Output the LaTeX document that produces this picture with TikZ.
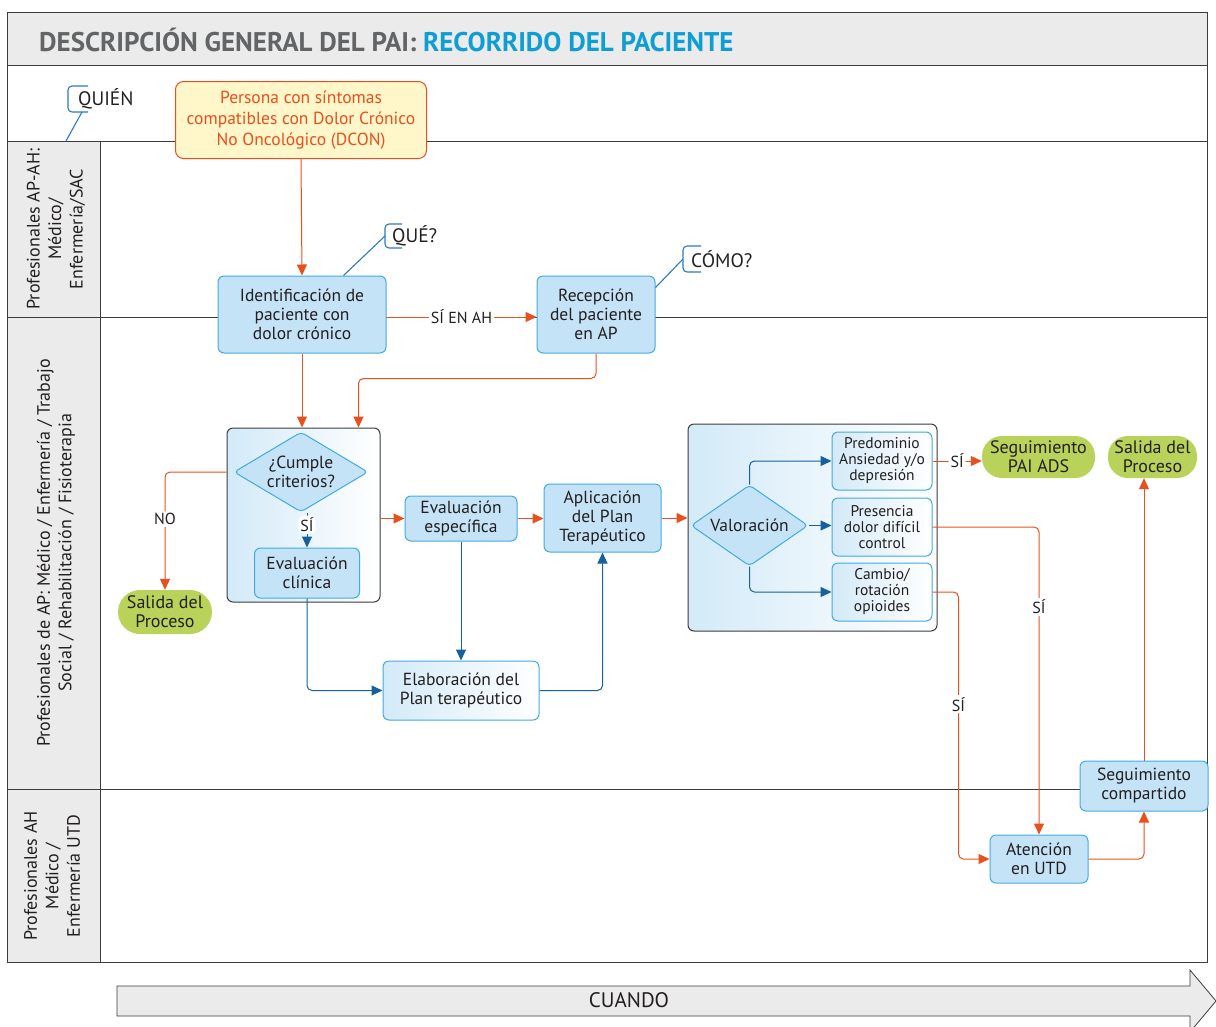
\documentclass[tikz,border=0pt]{standalone}
\usepackage{fontspec}
\setmainfont{PT Sans}
\usetikzlibrary{arrows.meta,shapes.geometric,positioning}
\definecolor{naranja}{HTML}{E8501E}
\definecolor{azulosc}{HTML}{17609F}
\definecolor{azulborde}{HTML}{44AAE0}
\definecolor{azulrelleno}{HTML}{C5E3F6}
\definecolor{azulclaro}{HTML}{D3EAF8}
\definecolor{azulllamada}{HTML}{2B7AC5}
\definecolor{verde}{HTML}{B8D25A}
\definecolor{amarillo}{HTML}{FFF6C9}
\definecolor{grisfondo}{HTML}{EBEBEB}
\definecolor{gristexto}{HTML}{636466}
\definecolor{grislinea}{HTML}{3C3C3C}
\definecolor{cian}{HTML}{0E9ED3}
\definecolor{textonodo}{HTML}{231F20}
\tikzset{
    pasonode/.style = {
        align=center,
        inner sep=0pt,
        text centered,
        text=textonodo,
        font=\fontsize{17.5}{19}\selectfont,
        rectangle,
        rounded corners=6pt,
        draw=azulborde,
        line width=1pt,
        fill=azulrelleno
    },
    suavenode/.style = {
        pasonode,
        left color=azulclaro,
        right color=white
    },
    pequenonode/.style = {
        suavenode,
        font=\fontsize{15.5}{16}\selectfont,
        minimum width=100pt,
        minimum height=58pt
    },
    decisionnode/.style = {
        pasonode,
        diamond,
        rounded corners=4pt,
        aspect=1.7
    },
    grupobox/.style = {
        rectangle,
        rounded corners=6pt,
        draw=grislinea,
        line width=1pt,
        left color=azulclaro,
        right color=white
    },
    salidanode/.style = {
        align=center,
        inner sep=0pt,
        text=textonodo,
        font=\fontsize{18}{19}\selectfont,
        rectangle,
        rounded corners=20pt,
        fill=verde
    },
    carrilnode/.style = {
        align=center,
        rotate=90,
        text=textonodo,
        font=\fontsize{18}{21.5}\selectfont
    },
    llamadanode/.style = {
        anchor=west,
        inner sep=0pt,
        text=textonodo,
        font=\fontsize{19.5}{21}\selectfont
    },
    llamada/.style = {
        draw=azulllamada,
        line width=1.1pt,
        rounded corners=4pt
    },
    flechanar/.style = {
        draw=naranja,
        line width=1pt,
        rounded corners=5pt,
        -{Triangle[length=11pt,width=10pt]}
    },
    flechaazul/.style = {
        draw=azulosc,
        line width=1pt,
        rounded corners=5pt,
        -{Triangle[length=11pt,width=10pt]}
    },
    etiqueta/.style = {
        fill=white,
        inner sep=2pt,
        text=textonodo,
        font=\fontsize{16}{17}\selectfont
    }
}

\begin{document}
\begin{tikzpicture}[x=1pt,y=-1pt]
    \useasboundingbox (0,0) rectangle (1216,1026);
    \clip (0,0) rectangle (1216,1026);
    % marco y carriles
    \fill[grisfondo] (7,12) rectangle (1207,65);
    \fill[grisfondo] (7,141) rectangle (100,962);
    \draw[grislinea, line width=1pt] (7,12) rectangle (1207,962);
    \draw[grislinea, line width=1pt] (7,65) -- (1207,65);
    \draw[grislinea, line width=0.8pt] (7,141) -- (1207,141);
    \draw[grislinea, line width=0.8pt] (7,317) -- (1207,317);
    \draw[grislinea, line width=0.8pt] (7,789) -- (1207,789);
    \draw[grislinea, line width=0.8pt] (100,141) -- (100,962);
    \node[anchor=west, inner sep=0pt, font=\fontsize{27}{28}\selectfont\bfseries] (titulo) at (39,40)
        {\color{gristexto}DESCRIPCIÓN GENERAL DEL PAI: \color{cian}RECORRIDO DEL PACIENTE};
    \node[carrilnode] (carril1) at (56,229) {Profesionales AP-AH:\\Médico/\\Enfermería/SAC};
    \node[carrilnode] (carril2) at (56,553) {Profesionales de AP: Médico / Enfermería / Trabajo\\Social / Rehabilitación / Fisioterapia};
    \node[carrilnode] (carril3) at (52,876) {Profesionales AH\\Médico /\\Enfermería UTD};

    % llamadas
    \node[llamadanode] (quien) at (78,99) {QUIÉN};
    \draw[llamada] ([xshift=10pt,yshift=13pt]quien.west) -- ([xshift=-10pt,yshift=13pt]quien.west) -- ([xshift=-10pt,yshift=-13pt]quien.west) -- ([xshift=10pt,yshift=-13pt]quien.west);
    \coordinate (quienpt) at (66,141);
    \draw[azulllamada, line width=1.1pt] ([xshift=4pt,yshift=-13pt]quien.west) -- (quienpt);
    \node[llamadanode] (que) at (392,236) {QUÉ?};
    \draw[llamada] ([xshift=10pt,yshift=12pt]que.west) -- ([xshift=-7pt,yshift=12pt]que.west) -- ([xshift=-7pt,yshift=-12pt]que.west) -- ([xshift=10pt,yshift=-12pt]que.west);
    \node[llamadanode] (como) at (691,259) {CÓMO?};
    \draw[llamada] ([xshift=10pt,yshift=13pt]como.west) -- ([xshift=-8pt,yshift=13pt]como.west) -- ([xshift=-8pt,yshift=-13pt]como.west) -- ([xshift=10pt,yshift=-13pt]como.west);

    % contenedores
    \node[grupobox, minimum width=153pt, minimum height=174pt] (grupo1) at (303.5,515) {};
    \node[grupobox, minimum width=249pt, minimum height=207pt] (grupo2) at (812.5,527.5) {};

    % nodos
    \node[pasonode, fill=amarillo, draw=naranja, text=naranja, rounded corners=8pt,
        minimum width=251pt, minimum height=77pt, font=\fontsize{17.5}{21}\selectfont] (persona) at (301,120)
        {Persona con síntomas\\compatibles con Dolor Crónico\\No Oncológico (DCON)};
    \node[pasonode, minimum width=168pt, minimum height=77pt] (ident) at (302,314.5)
        {Identificación de\\paciente con\\dolor crónico};
    \node[pasonode, minimum width=118pt, minimum height=77pt] (recep) at (596,314.5)
        {Recepción\\del paciente\\en AP};
    \node[decisionnode, inner sep=-5pt, minimum width=134pt, minimum height=80pt] (cumple) at (301,472)
        {¿Cumple\\criterios?};
    \node[pasonode, minimum width=105pt, minimum height=50pt] (evclin) at (307,573)
        {Evaluación\\clínica};
    \node[salidanode, minimum width=94pt, minimum height=44pt, rounded corners=22pt] (salida1) at (165,612)
        {Salida del\\Proceso};
    \node[pasonode, minimum width=112pt, minimum height=45pt] (evesp) at (461,518.5)
        {Evaluación\\específica};
    \node[pasonode, minimum width=117pt, minimum height=68pt] (aplic) at (602.5,518)
        {Aplicación\\del Plan\\Terapéutico};
    \node[suavenode, minimum width=156pt, minimum height=59pt] (elab) at (461,690.5)
        {Elaboración del\\Plan terapéutico};
    \node[decisionnode, inner sep=-3pt, aspect=1.45, minimum width=117pt, minimum height=81pt] (valor) at (749.5,525.5)
        {Valoración};
    \node[pequenonode] (predom) at (882,461) {Predominio\\Ansiedad y/o\\depresión};
    \node[pequenonode] (presen) at (882,527) {Presencia\\dolor difícil\\control};
    \node[pequenonode] (cambio) at (882,592) {Cambio/\\rotación\\opioides};
    \node[salidanode, minimum width=113pt, minimum height=42pt] (segads) at (1038.5,457)
        {Seguimiento\\PAI ADS};
    \node[salidanode, minimum width=89pt, minimum height=42pt] (salida2) at (1152.5,457)
        {Salida del\\Proceso};
    \node[pasonode, minimum width=98pt, minimum height=48pt] (atenc) at (1039,859)
        {Atención\\en UTD};
    \node[pasonode, minimum width=128pt, minimum height=50pt] (segcomp) at (1144,786)
        {Seguimiento\\compartido};

    % punteros de las llamadas
    \draw[azulllamada, line width=1.1pt] ([xshift=-7pt]que.west) -- ([xshift=-43pt]ident.north east);
    \draw[azulllamada, line width=1.1pt] ([xshift=-8pt]como.west) -- ([yshift=-12pt]recep.north east);

    % conectores
    \draw[flechanar] (persona.south) -- (ident.north);
    \draw[flechanar] ([yshift=-2.5pt]ident.east) -- node[etiqueta] {SÍ EN AH} ([yshift=-2.5pt]recep.west);
    \draw[flechanar] (ident.south) -- (ident.south |- grupo1.north);
    \draw[flechanar] (recep.south) -- ++(0,25) -| ([xshift=55pt]grupo1.north);
    \draw[flechaazul] (evclin.north |- cumple.south) -- node[etiqueta, pos=0.35] {SÍ} (evclin.north);
    \draw[flechanar] (cumple.west -| grupo1.west) -| node[etiqueta, pos=0.7] {NO} (salida1.north);
    \draw[flechanar] (grupo1.east |- evesp.west) -- (evesp.west);
    \draw[flechanar] (evesp.east) -- (evesp.east -| aplic.west);
    \draw[flechanar] (aplic.east) -- (aplic.east -| grupo2.west);
    \draw[flechaazul] (evesp.south) -- (elab.north);
    \draw[flechaazul] (evclin.south) |- (elab.west);
    \draw[flechaazul] (elab.east) -| (aplic.south);
    \draw[flechaazul] (valor.north) |- (predom.west);
    \draw[flechaazul] (valor.east) -- (valor.east -| presen.west);
    \draw[flechaazul] (valor.south) |- (cambio.west);
    \draw[flechanar] (predom.east) -- node[etiqueta] {SÍ} (predom.east -| segads.west);
    \draw[flechanar] (presen.east) -| node[etiqueta, pos=0.63] {SÍ} (atenc.north);
    \draw[flechanar] (cambio.east) -- ++(26,0) |- node[etiqueta, pos=0.21] {SÍ} (atenc.west);
    \draw[flechanar] (atenc.east) -| (segcomp.south);
    \draw[flechanar] (segcomp.north) -- (segcomp.north |- salida2.south);

    % eje temporal
    \draw[grislinea, fill=grisfondo, line width=0.8pt] (117,986) -- (1190,986) -- (1190,970) -- (1216,1001)
        -- (1190,1032) -- (1190,1016) -- (117,1016) -- cycle;
    \node[text=textonodo, font=\fontsize{21}{22}\selectfont] (cuando) at (629,1000) {CUANDO};
\end{tikzpicture}
\end{document}
